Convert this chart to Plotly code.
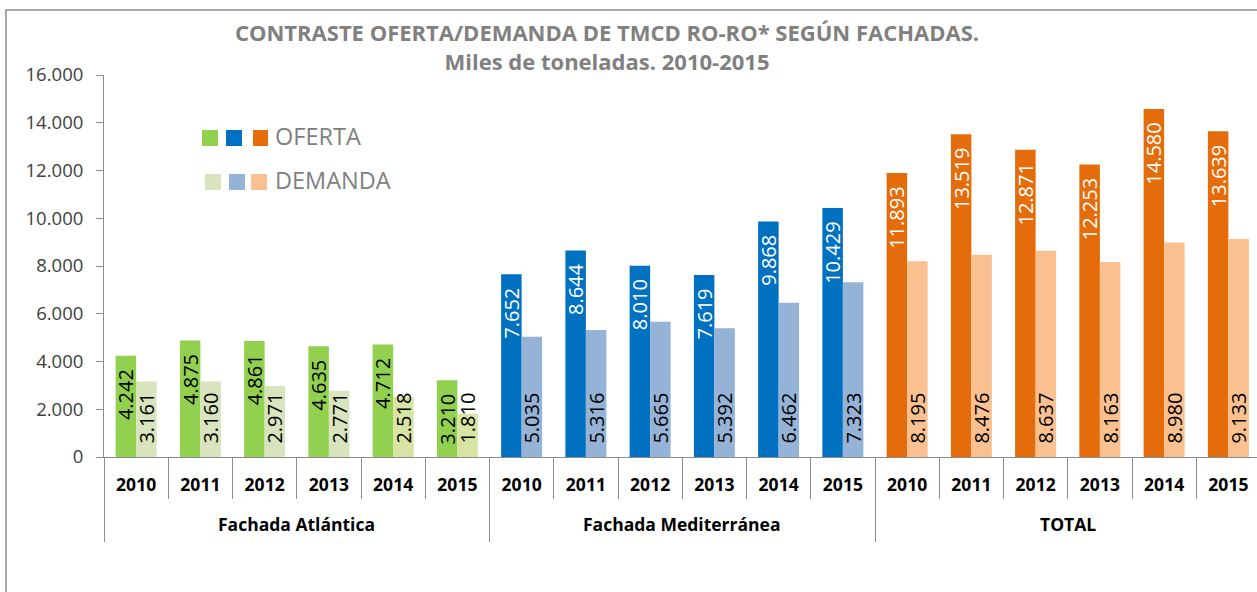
import plotly.graph_objects as go

# ---------------- data ----------------
sections = ["Fachada Atlántica", "Fachada Mediterránea", "TOTAL"]
years = ["2010", "2011", "2012", "2013", "2014", "2015"]

oferta_atl = [4242, 4875, 4861, 4635, 4712, 3210]
demanda_atl = [3161, 3160, 2971, 2771, 2518, 1810]
oferta_med = [7652, 8644, 8010, 7619, 9868, 10429]
demanda_med = [5035, 5316, 5665, 5392, 6462, 7323]
oferta_tot = [11893, 13519, 12871, 12253, 14580, 13639]
demanda_tot = [8195, 8476, 8637, 8163, 8980, 9133]

title_lines = ["CONTRASTE OFERTA/DEMANDA DE TMCD RO-RO* SEGÚN FACHADAS.",
               "Miles de toneladas. 2010-2015"]
legend_labels = ["OFERTA", "DEMANDA"]

# ---------------- styles ----------------
oferta_colors_sec = ["#92D050", "#0070C0", "#E46C0A"]
demanda_colors_atl = ["#D7E4BD", "#D7E4BD", "#D7E4BD", "#D7E4BD", "#D7E4A3", "#D7E4A3"]
demanda_colors_sec = ["#D7E4BD", "#95B3D7", "#FAC090"]
oferta_text_sec = ["#000000", "#FFFFFF", "#FFFFFF"]
AXIS_COLOR = "#8C8C8C"
FONT = "Open Sans"

# ---------------- build ----------------
n_y = len(years)
oferta_all = oferta_atl + oferta_med + oferta_tot
demanda_all = demanda_atl + demanda_med + demanda_tot
xs = list(range(len(oferta_all)))
tick_text = years * len(sections)
oferta_colors = [c for c in oferta_colors_sec for _ in years]
oferta_text_colors = [c for c in oferta_text_sec for _ in years]
demanda_colors = demanda_colors_atl + [c for c in demanda_colors_sec[1:] for _ in years]
year_bounds = [i - 0.5 for i in range(len(xs) + 1)]
section_bounds = [i * n_y - 0.5 for i in range(len(sections) + 1)]
section_centers = [i * n_y + (n_y - 1) / 2 for i in range(len(sections))]

W, H = 1257, 592
ML, MR, MT, MB = 104, 0, 75, 135
PW, PH = W - ML - MR, H - MT - MB
XR = [-0.5, -0.5 + PW / 64.25]


def px_x(p):
    return (p - ML) / PW


def px_y(p):
    return (H - MB - p) / PH


fig = go.Figure()
fig.add_trace(go.Bar(
    name=legend_labels[0], x=xs, y=oferta_all,
    marker=dict(color=oferta_colors, line_width=0),
    texttemplate="%{y:,.0f}\u00a0\u00a0", textposition="inside",
    insidetextanchor="end", textangle=-90, constraintext="none",
    textfont=dict(family=FONT, size=20, color=oferta_text_colors),
    showlegend=False, cliponaxis=False,
))
fig.add_trace(go.Bar(
    name=legend_labels[1], x=xs, y=demanda_all,
    marker=dict(color=demanda_colors, line_width=0),
    texttemplate="\u00a0\u00a0%{y:,.0f}", textposition="inside",
    insidetextanchor="start", textangle=-90, constraintext="none",
    textfont=dict(family=FONT, size=20, color="#000000"),
    showlegend=False, cliponaxis=False,
))
# invisible helpers so the overlay axes (used for divider ticks) are drawn
for ax in ["x2", "x3"]:
    fig.add_trace(go.Scatter(x=[0], y=[0], xaxis=ax, yaxis="y", mode="markers",
                             marker=dict(opacity=0), showlegend=False, hoverinfo="skip"))

shapes = [dict(type="rect", xref="paper", yref="paper",
               x0=px_x(6), x1=1.2, y0=-0.6, y1=px_y(10),
               line=dict(color="#A6A6A6", width=2), fillcolor="rgba(0,0,0,0)", layer="below")]

# legend: three squares per row + label
sq_rows = [
    ([(202, 218), (226, 242), (253, 268)], (130, 146), oferta_colors_sec),
    ([(205, 221), (229, 245), (251, 267)], (174, 190), demanda_colors_sec),
]
annotations = []
for (xsq, (yt, yb), cols), label in zip(sq_rows, legend_labels):
    for (x0, x1), c in zip(xsq, cols):
        shapes.append(dict(type="rect", xref="paper", yref="paper",
                           x0=px_x(x0), x1=px_x(x1), y0=px_y(yb), y1=px_y(yt),
                           line=dict(width=0), fillcolor=c))
    annotations.append(dict(text=label, xref="paper", yref="paper",
                            x=px_x(273), y=px_y((yt + yb) / 2 - 2),
                            xanchor="left", yanchor="middle", showarrow=False,
                            font=dict(family=FONT, size=23.5, color="#808080")))

for sec, cx in zip(sections, section_centers):
    annotations.append(dict(text=sec, x=cx, xref="x", yref="paper", y=px_y(524),
                            xanchor="center", yanchor="middle", showarrow=False,
                            font=dict(family=FONT, size=17.5, color="#000000", weight="bold")))

fig.update_layout(
    width=W, height=H,
    margin=dict(l=ML, r=MR, t=MT, b=MB, autoexpand=False),
    paper_bgcolor="white", plot_bgcolor="white",
    separators=",.",
    barmode="group", bargap=0.362, bargroupgap=0,
    title=dict(text="<br>".join(title_lines), x=607 / W, xanchor="center",
               y=1 - 41 / H, yanchor="top", yref="container",
               font=dict(family=FONT, size=22, color="#808080", weight="bold")),
    xaxis=dict(range=XR, tickmode="array", tickvals=xs, ticktext=tick_text,
               ticks="", showline=True, linecolor=AXIS_COLOR, linewidth=1,
               showgrid=False, zeroline=False, ticklabelstandoff=12,
               tickfont=dict(family=FONT, size=17.5, color="#000000", weight="bold")),
    xaxis2=dict(range=XR, overlaying="x", anchor="y", side="bottom",
                tickmode="array", tickvals=year_bounds, ticks="outside", ticklen=41,
                tickcolor=AXIS_COLOR, tickwidth=1, showticklabels=False,
                showgrid=False, zeroline=False, showline=False),
    xaxis3=dict(range=XR, overlaying="x", anchor="y", side="bottom",
                tickmode="array", tickvals=section_bounds, ticks="outside", ticklen=84,
                tickcolor=AXIS_COLOR, tickwidth=1, showticklabels=False,
                showgrid=False, zeroline=False, showline=False),
    yaxis=dict(range=[0, 16000], dtick=2000, tickformat=",.0f",
               ticks="outside", ticklen=7, tickcolor=AXIS_COLOR, tickwidth=1,
               showline=True, linecolor=AXIS_COLOR, linewidth=1,
               showgrid=False, zeroline=False, ticklabelstandoff=9,
               tickfont=dict(family=FONT, size=18.5, color="#404040")),
    shapes=shapes, annotations=annotations,
    hovermode=False,
)

fig.write_html("out.html", config={"displayModeBar": False},
               post_script="document.body.style.margin='0';")
